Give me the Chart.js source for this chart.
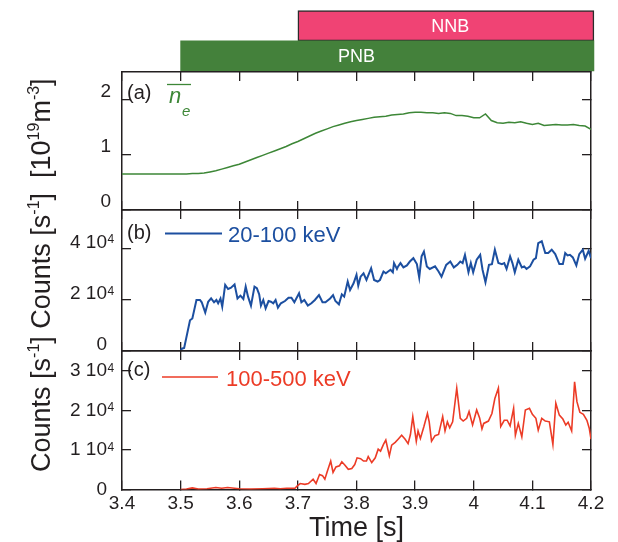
<!DOCTYPE html>
<html><head><meta charset="utf-8">
<script src="https://cdn.jsdelivr.net/npm/chart.js@4.4.0/dist/chart.umd.min.js"></script>
<style>
html,body{margin:0;padding:0;background:#fff;}
#wrap{position:relative;width:618px;height:542px;overflow:hidden;}
canvas{position:absolute;left:0;top:0;}
</style></head><body>
<div id="wrap">
<canvas id="cBeam" width="618" height="542"></canvas>
<canvas id="cA" width="618" height="542"></canvas>
<canvas id="cB" width="618" height="542"></canvas>
<canvas id="cC" width="618" height="542"></canvas>
</div>
<script>
// ---------------- DATA ----------------
const timeTicks = [3.4, 3.5, 3.6, 3.7, 3.8, 3.9, 4.0, 4.1, 4.2];
const timeLabels = ['3.4', '3.5', '3.6', '3.7', '3.8', '3.9', '4', '4.1', '4.2'];

const beamNames = ['NNB', 'PNB'];
const beamStart = [3.7, 3.5];
const beamEnd = [4.205, 4.205];
const beamLabelAt = [3.96, 3.80];

// (a) line-averaged electron density [10^19 m^-3]
const densTime = [3.40,3.41,3.42,3.43,3.44,3.45,3.46,3.47,3.48,3.49,3.50,3.51,3.52,3.53,3.54,3.55,3.56,3.57,3.58,3.59,
  3.60,3.61,3.62,3.63,3.64,3.65,3.66,3.67,3.68,3.69,3.70,3.71,3.72,3.73,3.74,3.75,3.76,3.77,3.78,3.79,
  3.80,3.81,3.82,3.83,3.84,3.85,3.86,3.87,3.88,3.89,3.90,3.91,3.92,3.93,3.94,3.95,3.96,3.97,3.98,3.99,
  4.00,4.01,4.02,4.03,4.04,4.05,4.06,4.07,4.08,4.09,4.10,4.11,4.12,4.13,4.14,4.15,4.16,4.17,4.18,4.19,4.20];
const densVal = [0.65,0.65,0.65,0.65,0.65,0.65,0.65,0.65,0.65,0.65,0.65,0.65,0.66,0.66,0.67,0.69,0.71,0.74,0.77,0.80,
  0.83,0.87,0.91,0.95,0.99,1.03,1.07,1.11,1.15,1.20,1.24,1.29,1.34,1.39,1.43,1.47,1.51,1.54,1.57,1.60,
  1.62,1.64,1.66,1.68,1.69,1.70,1.72,1.73,1.74,1.76,1.77,1.77,1.76,1.76,1.75,1.76,1.75,1.71,1.71,1.70,
  1.67,1.67,1.74,1.62,1.58,1.57,1.59,1.58,1.60,1.57,1.55,1.57,1.53,1.54,1.55,1.54,1.54,1.55,1.53,1.52,1.46];
const aTicks = [0, 1, 2];

// (b) 20-100 keV counts [10^4 s^-1]
const bTime = [3.500,3.502,3.506,3.516,3.520,3.527,3.533,3.536,3.542,3.547,3.552,3.557,3.561,3.564,3.568,3.571,3.576,3.581,3.586,3.592,
  3.597,3.602,3.607,3.611,3.615,3.620,3.626,3.630,3.634,3.637,3.641,3.645,3.650,3.654,3.658,3.662,3.666,3.671,3.678,3.684,
  3.689,3.694,3.702,3.706,3.711,3.717,3.723,3.729,3.736,3.742,3.747,3.755,3.760,3.764,3.770,3.775,3.779,3.785,3.789,3.795,
  3.800,3.803,3.807,3.812,3.817,3.825,3.830,3.836,3.840,3.846,3.850,3.854,3.858,3.862,3.864,3.869,3.871,3.875,3.880,3.886,
  3.891,3.897,3.903,3.907,3.911,3.915,3.920,3.925,3.934,3.940,3.945,3.953,3.960,3.966,3.972,3.977,3.981,3.985,3.991,3.995,
  3.999,4.005,4.011,4.015,4.020,4.026,4.031,4.036,4.042,4.048,4.052,4.056,4.062,4.066,4.070,4.076,4.082,4.086,4.090,4.096,
  4.102,4.106,4.110,4.116,4.122,4.127,4.133,4.139,4.146,4.152,4.156,4.160,4.164,4.169,4.175,4.180,4.186,4.190,4.196,4.200];
const bCounts = [0,0.09,0.12,1.20,1.27,1.99,1.99,1.90,1.50,1.92,2.05,1.90,1.99,1.86,2.05,1.73,2.58,2.42,2.47,2.60,
  2.05,2.16,2.03,2.51,2.12,1.77,2.51,2.45,2.21,1.77,1.99,1.66,1.95,1.92,1.86,1.99,1.69,1.86,1.95,2.08,
  2.08,1.90,2.25,1.90,1.99,1.77,1.86,1.99,2.18,1.90,1.90,2.05,2.18,1.95,1.82,2.21,2.12,2.71,2.38,2.64,
  2.97,2.55,2.90,3.03,2.77,3.23,2.77,2.71,2.77,3.10,3.03,3.10,3.17,3.07,3.43,3.20,3.30,3.43,3.26,3.34,
  3.49,3.62,3.39,2.86,3.69,3.88,3.30,3.20,3.30,3.10,2.90,3.36,3.49,3.26,3.36,3.49,3.43,3.75,3.07,3.43,
  3.07,3.56,3.75,3.17,2.68,3.36,3.39,3.95,3.43,3.39,3.43,3.20,3.69,3.43,3.07,3.56,3.26,3.30,3.20,3.30,
  3.56,3.62,4.21,4.28,3.82,3.82,3.95,3.78,3.39,3.39,3.82,3.73,3.75,3.65,3.34,3.78,3.95,3.60,3.91,3.62];
const bTicks = [0, 2, 4];

// (c) 100-500 keV counts [10^4 s^-1]
const cTime = [3.500,3.510,3.520,3.530,3.545,3.560,3.570,3.580,3.600,3.620,3.640,3.660,3.670,3.681,3.695,3.699,3.704,3.712,3.718,3.726,
  3.731,3.737,3.742,3.746,3.750,3.756,3.760,3.765,3.771,3.775,3.780,3.786,3.792,3.797,3.801,3.807,3.812,3.817,3.820,3.826,
  3.832,3.837,3.841,3.846,3.850,3.856,3.860,3.866,3.871,3.877,3.883,3.888,3.892,3.896,3.902,3.905,3.909,3.915,3.921,3.924,
  3.928,3.934,3.940,3.947,3.951,3.955,3.959,3.964,3.971,3.977,3.982,3.988,3.992,3.998,4.005,4.010,4.014,4.017,4.025,4.031,
  4.036,4.042,4.046,4.052,4.057,4.062,4.068,4.071,4.076,4.082,4.088,4.095,4.100,4.106,4.110,4.116,4.122,4.129,4.135,4.140,
  4.146,4.152,4.157,4.161,4.167,4.172,4.176,4.181,4.187,4.193,4.197,4.200];
const cCounts = [0,0.01,0.04,0.01,0.02,0.05,0.03,0.05,0.02,0.01,0.02,0.03,0.02,0.03,0.03,0.09,0.15,0.13,0.15,0.26,
  0.15,0.38,0.35,0.26,0.45,0.72,0.43,0.57,0.60,0.70,0.62,0.51,0.53,0.63,0.80,0.78,0.72,0.72,0.83,0.68,
  0.80,1.02,0.97,1.14,1.25,0.85,1.12,1.19,1.27,1.37,1.27,1.16,1.39,1.84,1.22,1.48,1.29,1.59,1.92,1.71,
  1.22,1.36,1.39,1.84,1.48,1.71,1.56,1.71,2.56,1.80,1.73,1.80,1.97,1.63,2.01,1.81,1.53,1.67,1.73,1.92,
  2.30,2.56,1.59,1.75,1.75,1.61,2.05,1.37,1.67,1.33,2.01,2.05,1.90,1.80,1.50,1.80,1.73,1.71,1.14,2.18,
  1.88,1.78,1.63,1.70,1.48,2.72,2.22,1.95,1.90,1.75,1.55,1.27];
const cTicks = [0, 1, 2, 3];

// ---------------- STYLE / LAYOUT ----------------
const W = 618, H = 542, PLOT_L = 122, PLOT_R = 591;
const INK = '#231f20';
const FONT = "'Liberation Sans', Arial, Helvetica, sans-serif";
const GREEN = '#3d8737', BLUE = '#1c4fa0', RED = '#ec3b26';
const TICK_FONT = 19;

function pts(t, v) { return t.map((x, i) => ({ x: x, y: v[i] })); }

function axisGrid() {
  return { drawOnChartArea: false, drawTicks: true, tickLength: -9, color: INK, lineWidth: 1.3 };
}
function axisBorder() { return { display: true, color: INK, width: 1.5 }; }

function makePanel(id, p) {
  const scales = {
    x: {
      type: 'linear', position: 'bottom', min: 3.4, max: 4.2,
      afterBuildTicks: s => { s.ticks = timeTicks.map(v => ({ value: v })); },
      grid: axisGrid(), border: axisBorder(),
      ticks: { display: p.showX, autoSkip: false, maxRotation: 0, padding: 12, color: INK,
        font: { family: FONT, size: TICK_FONT }, callback: (v, i) => timeLabels[i] },
      title: p.showX ? { display: true, text: 'Time [s]', color: INK, font: { family: FONT, size: 27 }, padding: { top: 0, bottom: -3 } } : { display: false },
      afterFit: s => { s.height = p.showX ? (H - p.bottom) : 0; }
    },
    x2: {
      type: 'linear', position: 'top', min: 3.4, max: 4.2,
      afterBuildTicks: s => { s.ticks = timeTicks.map(v => ({ value: v })); },
      grid: axisGrid(), border: axisBorder(), ticks: { display: false },
      afterFit: s => { s.height = 0; }
    },
    y: {
      type: 'linear', position: 'left', min: 0, max: p.yMax,
      afterBuildTicks: s => { s.ticks = p.yTicks.map(v => ({ value: v })); },
      grid: axisGrid(), border: axisBorder(),
      ticks: { padding: p.yPad, labelOffset: p.labelOffset, color: INK, font: { family: FONT, size: TICK_FONT }, callback: p.yFmt },
      afterFit: s => { s.width = PLOT_L; }
    },
    y2: {
      type: 'linear', position: 'right', min: 0, max: p.yMax,
      afterBuildTicks: s => { s.ticks = p.yTicks.map(v => ({ value: v })); },
      grid: axisGrid(), border: axisBorder(), ticks: { display: false },
      afterFit: s => { s.width = 0; }
    }
  };
  return new Chart(document.getElementById(id), {
    type: 'line',
    data: { datasets: [{ data: pts(p.t, p.v), borderColor: p.color, borderWidth: p.lw, pointRadius: 0, fill: false, tension: 0 }] },
    options: {
      responsive: false, animation: false, events: [],
      layout: { padding: { left: 0, right: W - PLOT_R, top: p.top, bottom: p.showX ? 0 : H - p.bottom } },
      scales: scales,
      plugins: { legend: { display: false }, tooltip: { enabled: false } }
    },
    plugins: p.plugins || []
  });
}

function txt(ctx, s, x, y, font, color, align) {
  ctx.save(); ctx.font = font; ctx.fillStyle = color; ctx.textAlign = align || 'left'; ctx.textBaseline = 'alphabetic';
  ctx.fillText(s, x, y); ctx.restore();
}
function seg(ctx, x1, x2, y, color, w) {
  ctx.save(); ctx.strokeStyle = color; ctx.lineWidth = w; ctx.beginPath(); ctx.moveTo(x1, y); ctx.lineTo(x2, y); ctx.stroke(); ctx.restore();
}

// exponent "4" of the "n 10^4" tick labels, placed from the y scale's tick pixels
function exponentPlugin(labelOffset) {
  return { id: 'exp', afterDraw(chart) {
    const ys = chart.scales.y, ctx = chart.ctx;
    ctx.save(); ctx.font = '12px ' + FONT; ctx.fillStyle = INK; ctx.textAlign = 'left'; ctx.textBaseline = 'alphabetic';
    ys.ticks.forEach(t => {
      if (t.value !== 0) ctx.fillText('4', 107.5, ys.getPixelForValue(t.value) + labelOffset + 1);
    });
    ctx.restore();
  }};
}

const legendA = { id: 'legA', afterDraw(chart) {
  const ctx = chart.ctx;
  txt(ctx, '(a)', 127, 99, '20px ' + FONT, INK);
  txt(ctx, 'n', 169, 103, 'italic 22px ' + FONT, GREEN);
  seg(ctx, 167, 191, 84.5, GREEN, 1.3);
  txt(ctx, 'e', 182, 116, 'italic 15px ' + FONT, GREEN);
}};
const legendB = { id: 'legB', afterDraw(chart) {
  const ctx = chart.ctx;
  txt(ctx, '(b)', 127, 238.5, '20px ' + FONT, INK);
  seg(ctx, 165, 222, 233.5, BLUE, 2);
  txt(ctx, '20-100 keV', 228, 241.5, '22px ' + FONT, BLUE);
}};
const legendC = { id: 'legC', afterDraw(chart) {
  const ctx = chart.ctx;
  txt(ctx, '(c)', 127, 376, '20px ' + FONT, INK);
  seg(ctx, 162, 218, 377, RED, 1.6);
  txt(ctx, '100-500 keV', 226, 386, '22px ' + FONT, RED);
}};
// rotated y-axis titles with superscripts
const yTitles = { id: 'yTitles', afterDraw(chart) {
  const ctx = chart.ctx;
  const parts = [
    ['Counts [s', 0], ['-1', 1], ['] Counts [s', 0], ['-1', 1], [']  [10', 0], ['19', 1], ['m', 0], ['-3', 1], [']', 0]
  ];
  ctx.save();
  ctx.translate(50, 472);
  ctx.rotate(-Math.PI / 2);
  ctx.fillStyle = INK; ctx.textBaseline = 'alphabetic'; ctx.textAlign = 'left';
  let x = 0;
  for (const [s, sup] of parts) {
    ctx.font = (sup ? '16px ' : '27px ') + FONT;
    ctx.fillText(s, x, sup ? -11 : 0);
    x += ctx.measureText(s).width;
  }
  ctx.restore();
}};

const fmt1e4 = v => (v === 0 ? '0' : v + ' 10');

makePanel('cA', { top: 72, bottom: 210, yMax: 2.5, yTicks: aTicks, yFmt: v => String(v), labelOffset: -8, yPad: 20,
  t: densTime, v: densVal, color: GREEN, lw: 1.5, showX: false, plugins: [legendA] });
makePanel('cB', { top: 210, bottom: 351, yMax: 5.5, yTicks: bTicks, yFmt: fmt1e4, labelOffset: -6, yPad: 24,
  t: bTime, v: bCounts, color: BLUE, lw: 2, showX: false, plugins: [legendB, exponentPlugin(-6)] });
makePanel('cC', { top: 351, bottom: 489.5, yMax: 3.5, yTicks: cTicks, yFmt: fmt1e4, labelOffset: 0, yPad: 24,
  t: cTime, v: cCounts, color: RED, lw: 1.6, showX: true, plugins: [legendC, yTitles, exponentPlugin(0)] });

// beams (floating horizontal bars)
const beamText = { id: 'beamText', afterDatasetsDraw(chart) {
  const ctx = chart.ctx, meta = chart.getDatasetMeta(0), xs = chart.scales.x;
  ctx.save(); ctx.fillStyle = '#ffffff'; ctx.font = '18px ' + FONT; ctx.textAlign = 'center'; ctx.textBaseline = 'middle';
  meta.data.forEach((bar, i) => { ctx.fillText(beamNames[i], xs.getPixelForValue(beamLabelAt[i]), bar.y + 1); });
  ctx.restore();
}};
new Chart(document.getElementById('cBeam'), {
  type: 'bar',
  data: { labels: beamNames, datasets: [{
    data: beamNames.map((n, i) => [beamStart[i], beamEnd[i]]),
    backgroundColor: ['#f04374', '#44813b'],
    borderColor: ['#2b2b2b', 'rgba(0,0,0,0)'],
    borderWidth: [1.5, 0], borderSkipped: false,
    barPercentage: 1, categoryPercentage: 1, clip: false
  }]},
  options: {
    indexAxis: 'y', responsive: false, animation: false, events: [],
    layout: { padding: { left: PLOT_L, right: W - PLOT_R, top: 10.7, bottom: H - 71 } },
    scales: { x: { type: 'linear', min: 3.4, max: 4.2, display: false }, y: { type: 'category', display: false } },
    plugins: { legend: { display: false }, tooltip: { enabled: false } }
  },
  plugins: [beamText]
});
</script>
</body></html>
